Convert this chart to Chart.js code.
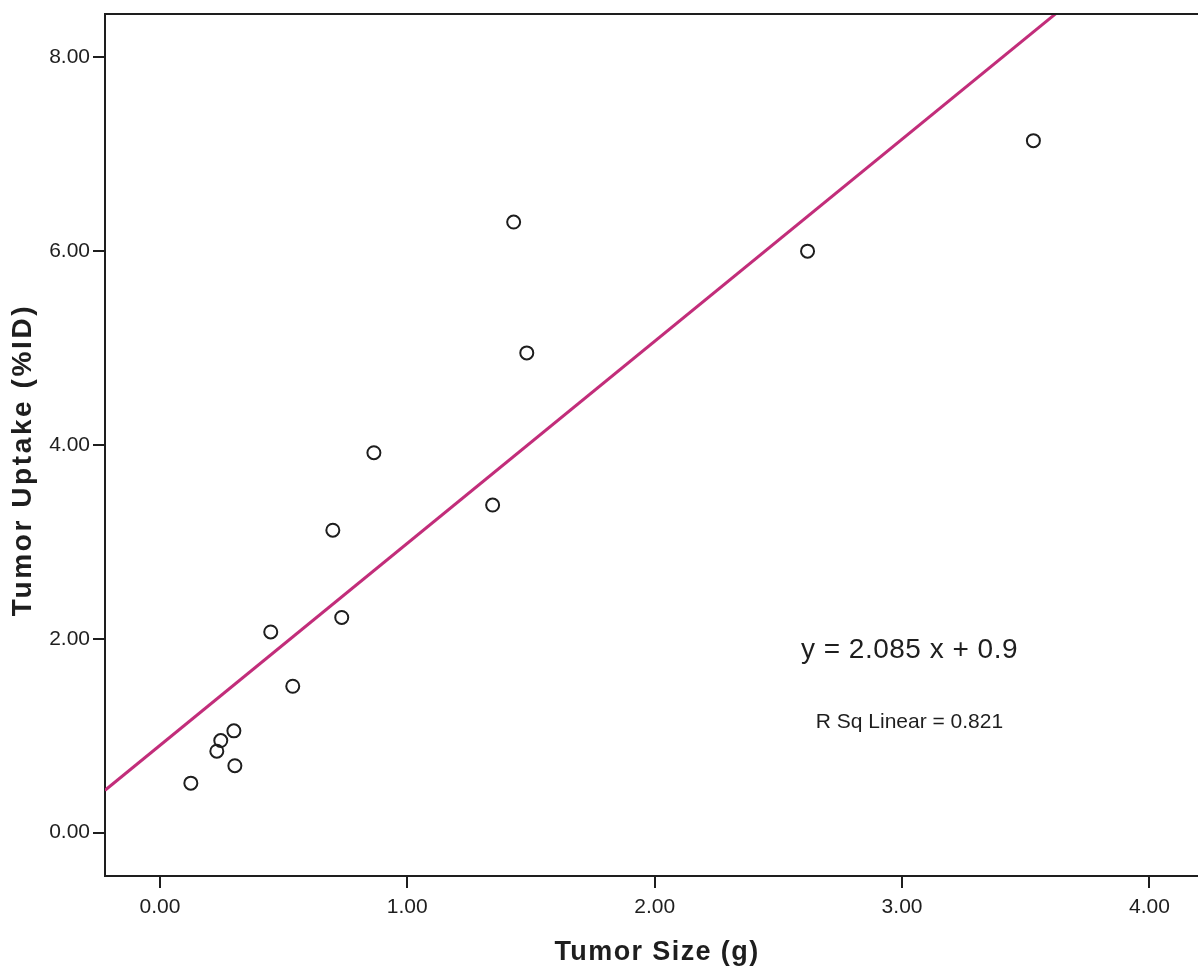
<!DOCTYPE html>
<html>
<head>
<meta charset="utf-8">
<title>Tumor Uptake vs Tumor Size</title>
<script src="https://cdn.jsdelivr.net/npm/chart.js@4.4.1/dist/chart.umd.min.js"></script>
<style>
    body { margin: 0; background: #fff; }
    .chart-box { width: 1198px; height: 969px; }
</style>
</head>
<body>
<div class="chart-box"><canvas id="scatterChart"></canvas></div>
<script>
// Tumor size (g) and uptake (%ID) per animal
var tumorSize   = [0.125, 0.230, 0.246, 0.299, 0.303, 0.448, 0.537, 0.699, 0.735, 0.865, 1.345, 1.430, 1.483, 2.618, 3.531]
var tumorUptake = [0.51, 0.84, 0.95, 1.05, 0.69, 2.07, 1.51, 3.12, 2.22, 3.92, 3.38, 6.30, 4.95, 6.00, 7.14]

// Linear fit
var slope = 2.085
var intercept = 0.9
var rSquared = 0.821

// Axis ticks and ranges
var xTicks = [0, 1, 2, 3, 4]
var yTicks = [0, 2, 4, 6, 8]
var xRange = [-0.222, 4.162]
var yRange = [-0.448, 8.447]

var ink = '#1e1e1e'
var fitColor = '#c22d7a'
var fontFamily = '"Liberation Sans", Arial, sans-serif'

var points = tumorSize.map(function(x, i) { return {x: x, y: tumorUptake[i]} })
var fitLine = xRange.map(function(x) { return {x: x, y: slope * x + intercept} })

//Axis titles, fit equation and the frame lines running to the canvas edge
var extras = {
    id: 'extras',
    afterDraw: function(chart) {
        var ctx = chart.ctx
        var area = chart.chartArea
        var xs = chart.scales.x
        var ys = chart.scales.y
        ctx.save()
        ctx.strokeStyle = ink
        ctx.lineWidth = 2
        ctx.beginPath()
        ctx.moveTo(area.left - 1, area.top)
        ctx.lineTo(chart.width, area.top)
        ctx.moveTo(area.right - 1, area.bottom)
        ctx.lineTo(chart.width, area.bottom)
        ctx.stroke()

        ctx.fillStyle = ink
        ctx.textAlign = 'center'
        ctx.textBaseline = 'alphabetic'

        ctx.font = '28px ' + fontFamily
        ctx.letterSpacing = '0.5px'
        ctx.fillText('y = ' + slope + ' x + ' + intercept, xs.getPixelForValue(3.03), ys.getPixelForValue(1.80))
        ctx.font = '21px ' + fontFamily
        ctx.letterSpacing = '0px'
        ctx.fillText('R Sq Linear = ' + rSquared, xs.getPixelForValue(3.03), ys.getPixelForValue(1.08))

        ctx.font = 'bold 27px ' + fontFamily
        ctx.letterSpacing = '1.4px'
        ctx.fillText('Tumor Size (g)', 657, 960)

        ctx.translate(31, 460)
        ctx.rotate(-Math.PI / 2)
        ctx.font = 'bold 28px ' + fontFamily
        ctx.letterSpacing = '2.6px'
        ctx.fillText('Tumor Uptake (%ID)', 0, 0)
        ctx.restore()
    }
}

function axis(range, ticks, pad) {
    return {
        type: 'linear',
        min: range[0],
        max: range[1],
        afterBuildTicks: function(scale) {
            scale.ticks = ticks.map(function(v) { return {value: v} })
        },
        ticks: {
            color: ink,
            padding: pad,
            font: {family: fontFamily, size: 21},
            callback: function(v) { return v.toFixed(2) }
        },
        grid: {
            drawOnChartArea: false,
            color: ink,
            lineWidth: 2,
            tickLength: 12
        },
        border: {display: true, color: ink, width: 2}
    }
}

var xAxis = axis(xRange, xTicks, 7)
xAxis.afterFit = function(scale) { scale.height = 93 }
var yAxis = axis(yRange, yTicks, 3)
yAxis.afterFit = function(scale) {
    scale.width = 105
    scale.paddingTop = 0
    scale.paddingBottom = 0
}

var ctx = document.getElementById('scatterChart').getContext('2d');
var myChart = new Chart(ctx, {
    type: 'scatter',
    data: {
        datasets: [{
            label: 'Tumor Uptake',
            data: points,
            pointRadius: 6.5,
            pointHoverRadius: 6.5,
            pointBorderWidth: 2,
            borderColor: ink,
            backgroundColor: 'rgba(0,0,0,0)'
        }, {
            label: 'Linear fit',
            type: 'line',
            data: fitLine,
            borderColor: fitColor,
            borderWidth: 3,
            pointRadius: 0,
            fill: false
        }]
    },
    options: {
        responsive: true,
        maintainAspectRatio: false,
        animation: false,
        layout: {padding: {top: 14, right: 0, left: 0, bottom: 0}},
        plugins: {
            legend: {display: false},
            tooltip: {enabled: false}
        },
        scales: {x: xAxis, y: yAxis}
    },
    plugins: [extras]
});
</script>
</body>
</html>
